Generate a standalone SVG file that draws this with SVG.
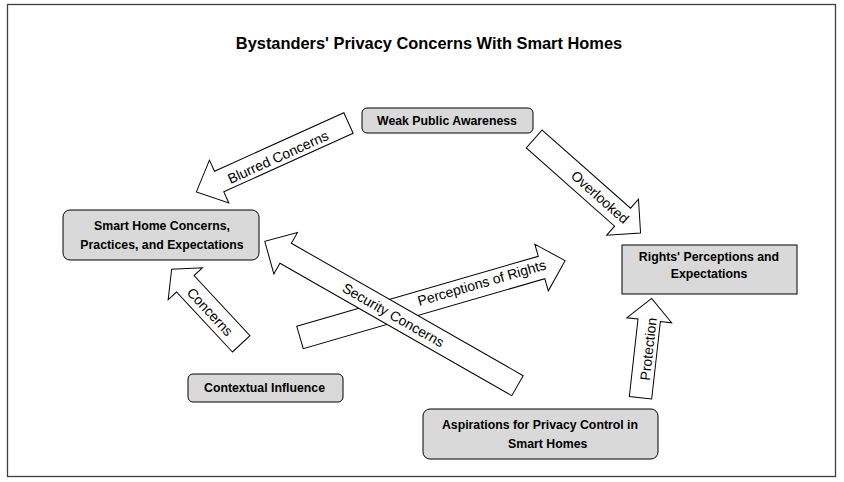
<svg xmlns="http://www.w3.org/2000/svg" width="844" height="482" viewBox="0 0 844 482">
<style>
.bg{fill:#ffffff}
.frame{fill:none;stroke:#404040;stroke-width:1.3}
.node{fill:#d9d9d9;stroke:#000;stroke-width:1}
.arrow{fill:#ffffff;stroke:#000;stroke-width:1;stroke-linejoin:miter}
.title{font-family:"Liberation Sans",Arial,sans-serif;font-weight:bold;font-size:16.4px;fill:#000;text-anchor:middle;dominant-baseline:central}
.nt{font-family:"Liberation Sans",Arial,sans-serif;font-weight:bold;font-size:12.3px;fill:#000;text-anchor:middle;dominant-baseline:central}
.lbl{font-family:"Liberation Sans",Arial,sans-serif;font-size:14px;fill:#000;text-anchor:middle;dominant-baseline:central}
</style>
<rect class="bg" x="0" y="0" width="844" height="482"/>
<rect class="frame" x="7.5" y="4.5" width="828" height="472"/>
<text class="title" x="429" y="42.5">Bystanders' Privacy Concerns With Smart Homes</text>

<g id="connectors">
  <g id="arrow-blurred">
    <polygon class="arrow" transform="translate(348.5,123) rotate(155.65)" points="0,-11.25 142,-11.25 142,-23.5 167,0 142,23.5 142,11.25 0,11.25"/>
    <text class="lbl" transform="translate(278,157) rotate(-24.35)">Blurred Concerns</text>
  </g>
  <g id="arrow-overlooked">
    <polygon class="arrow" transform="translate(534.2,139) rotate(41.5)" points="0,-12 118,-12 118,-24 142,0 118,24 118,12 0,12"/>
    <text class="lbl" transform="translate(600,197) rotate(41.5)">Overlooked</text>
  </g>
  <g id="arrow-concerns">
    <polygon class="arrow" transform="translate(241.2,343.8) rotate(-133)" points="0,-12 82,-12 82,-23.4 102,0 82,23.4 82,12 0,12"/>
    <text class="lbl" transform="translate(210,311.7) rotate(47)">Concerns</text>
  </g>
  <g id="arrow-protection">
    <polygon class="arrow" transform="translate(640.5,397.8) rotate(-83.6)" points="0,-11.25 78,-11.25 78,-22.6 100,0 78,22.6 78,11.25 0,11.25"/>
    <text class="lbl" transform="translate(648.3,349) rotate(-83.6)">Protection</text>
  </g>
  <g id="arrow-perceptions">
    <polygon class="arrow" transform="translate(300,337.5) rotate(-16.16)" points="0,-11.65 251.5,-11.65 251.5,-24.3 276,0 251.5,24.3 251.5,11.65 0,11.65"/>
    <text class="lbl" transform="translate(481.7,282.7) rotate(-16.16)">Perceptions of Rights</text>
  </g>
  <g id="arrow-security">
    <polygon class="arrow" transform="translate(517.5,385.7) rotate(-150.27)" points="0,-11.5 267,-11.5 267,-23.8 291,0 267,23.8 267,11.5 0,11.5"/>
    <text class="lbl" transform="translate(393.3,315) rotate(29.73)">Security Concerns</text>
  </g>
</g>

<g id="node-weak">
  <rect class="node" x="362" y="108" width="171" height="25" rx="5"/>
  <text class="nt" x="447" y="121">Weak Public Awareness</text>
</g>
<g id="node-smarthome">
  <rect class="node" x="63" y="210" width="196" height="50" rx="7"/>
  <text class="nt" x="162" y="225.5">Smart Home Concerns,</text>
  <text class="nt" x="162" y="244.5">Practices, and Expectations</text>
</g>
<g id="node-contextual">
  <rect class="node" x="188" y="374" width="155" height="28" rx="5"/>
  <text class="nt" x="264.5" y="388">Contextual Influence</text>
</g>
<g id="node-rights">
  <rect class="node" x="622" y="245" width="175" height="49"/>
  <text class="nt" x="709" y="257">Rights' Perceptions and</text>
  <text class="nt" x="709" y="274">Expectations</text>
</g>
<g id="node-aspirations">
  <rect class="node" x="423" y="409" width="235" height="50" rx="7"/>
  <text class="nt" x="540" y="425">Aspirations for Privacy Control in</text>
  <text class="nt" x="547.7" y="443.5">Smart Homes</text>
</g>
</svg>
